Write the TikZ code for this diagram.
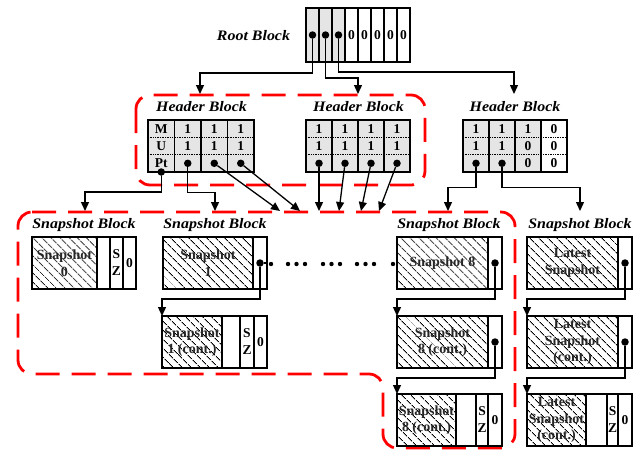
\documentclass[tikz,border=0pt]{standalone}
\usepackage{fontspec}
\setmainfont{Liberation Serif}
\newfontfamily\blockfont[FakeStretch=1.1]{Liberation Serif}
\usetikzlibrary{positioning,arrows.meta,patterns.meta}

\begin{document}
\begin{tikzpicture}[x=1pt, y=-1pt,
  cell/.style={draw, line width=1.3pt, inner sep=0pt, outer sep=0pt, align=center,
    minimum height=52pt, font=\bfseries\fontsize{13.5}{17}\selectfont},
  rcell/.style={cell, minimum width=13pt, minimum height=54pt},
  hcell/.style={cell, fill=gray!20, minimum width=26.5pt},
  snap/.style={cell, pattern={Lines[angle=-45, distance=6.5pt, line width=1pt]},
    text=black!85, font=\bfseries\fontsize{14}{16.5}\selectfont},
  lbl/.style={inner sep=0pt, font=\blockfont\bfseries\itshape\fontsize{14.5}{16}\selectfont},
  ptr/.style={circle, fill, inner sep=0pt, minimum size=7.5pt},
  arr/.style={line width=1.3pt, -{Triangle[width=8pt, length=9pt]}},
  link/.style={line width=1.3pt},
  sep/.style={densely dotted, line width=0.7pt},
  zone/.style={red, line width=2.8pt, dash pattern=on 24pt off 12pt, rounded corners=14pt}]
  \useasboundingbox (0,0) rectangle (637,451);

  % red groups
  \draw[zone] (136,95) rectangle (425,185);
  \draw[zone] (18,212) -- (515,212) -- (515,448) -- (383,448) -- (383,374) -- (18,374) -- cycle;

  % root block
  \node[lbl] (root) at (253.5,36) {Root Block};
  \node[rcell, fill=gray!20] (r1) at (312.5,35) {};
  \node[rcell, fill=gray!20, right=0pt of r1] (r2) {};
  \node[rcell, fill=gray!20, right=0pt of r2] (r3) {};
  \node[rcell, right=0pt of r3] (r4) {0};
  \node[rcell, right=0pt of r4] (r5) {0};
  \node[rcell, right=0pt of r5] (r6) {0};
  \node[rcell, right=0pt of r6] (r7) {0};
  \node[rcell, right=0pt of r7] (r8) {0};
  \node[ptr] (rd1) at (r1) {};
  \node[ptr] (rd2) at (r2) {};
  \node[ptr] (rd3) at (r3) {};

  % header blocks
  \coordinate (hinA) at (200,94);
  \coordinate (hinB) at (358,94);
  \coordinate (hinC) at (514,94);
  \node[lbl] (hlA) at (201.5,106.5) {Header Block};
  \node[lbl] (hlB) at (358.5,106.5) {Header Block};
  \node[lbl] (hlC) at (515,106.5) {Header Block};

  \node[hcell] (hA1) at (161.25,146) {M\\U\\Pt};
  \node[hcell, right=0pt of hA1] (hA2) {1\\1\\\phantom{1}};
  \node[hcell, right=0pt of hA2] (hA3) {1\\1\\\phantom{1}};
  \node[hcell, right=0pt of hA3] (hA4) {1\\1\\\phantom{1}};
  \draw[sep] ([yshift=8.7pt]hA1.west) -- ([yshift=8.7pt]hA4.east);
  \draw[sep] ([yshift=-8.7pt]hA1.west) -- ([yshift=-8.7pt]hA4.east);
  \node[ptr] (pA1) at (hA1.south) {};
  \node[ptr] (pA2) at ([yshift=-17.3pt]hA2.center) {};
  \node[ptr] (pA3) at ([yshift=-17.3pt]hA3.center) {};
  \node[ptr] (pA4) at ([yshift=-17.3pt]hA4.center) {};

  \node[hcell, minimum width=26pt] (hB1) at (319,146) {1\\1\\\phantom{1}};
  \node[hcell, minimum width=26pt, right=0pt of hB1] (hB2) {1\\1\\\phantom{1}};
  \node[hcell, minimum width=26pt, right=0pt of hB2] (hB3) {1\\1\\\phantom{1}};
  \node[hcell, minimum width=26pt, right=0pt of hB3] (hB4) {1\\1\\\phantom{1}};
  \draw[sep] ([yshift=8.7pt]hB1.west) -- ([yshift=8.7pt]hB4.east);
  \draw[sep] ([yshift=-8.7pt]hB1.west) -- ([yshift=-8.7pt]hB4.east);
  \node[ptr] (pB1) at ([yshift=-17.3pt]hB1.center) {};
  \node[ptr] (pB2) at ([yshift=-17.3pt]hB2.center) {};
  \node[ptr] (pB3) at ([yshift=-17.3pt]hB3.center) {};
  \node[ptr] (pB4) at ([yshift=-17.3pt]hB4.center) {};

  \node[hcell, minimum width=26pt] (hC1) at (476,146) {1\\1\\\phantom{1}};
  \node[hcell, minimum width=26pt, right=0pt of hC1] (hC2) {1\\1\\\phantom{1}};
  \node[hcell, minimum width=26pt, right=0pt of hC2] (hC3) {1\\0\\0};
  \node[cell, minimum width=26pt, right=0pt of hC3] (hC4) {0\\0\\0};
  \draw[sep] ([yshift=8.7pt]hC1.west) -- ([yshift=8.7pt]hC4.east);
  \draw[sep] ([yshift=-8.7pt]hC1.west) -- ([yshift=-8.7pt]hC4.east);
  \node[ptr] (pC1) at ([yshift=-17.3pt]hC1.center) {};
  \node[ptr] (pC2) at ([yshift=-17.3pt]hC2.center) {};

  % snapshot blocks, first row
  \coordinate (t0) at (85,211);
  \coordinate (t1) at (215,211);
  \coordinate (t8) at (448,211);
  \coordinate (tL) at (580,211);
  \coordinate (m1) at (280,211);
  \coordinate (m2) at (300,211);
  \coordinate (m3) at (319,211);
  \coordinate (m4) at (339,211);
  \coordinate (m5) at (361,211);
  \coordinate (m6) at (379,211);
  \node[lbl] (sb0) at (84,225) {Snapshot Block};
  \node[lbl] (sb1) at (215,225) {Snapshot Block};
  \node[lbl] (sb8) at (449,225) {Snapshot Block};
  \node[lbl] (sbL) at (580,225) {Snapshot Block};

  \node[snap, minimum width=65pt] (s0) at (64.5,263) {Snapshot\\0};
  \node[cell, minimum width=13pt, right=0pt of s0] (e0) {};
  \node[cell, minimum width=13pt, right=0pt of e0] (z0) {S\\Z};
  \node[cell, minimum width=13pt, right=0pt of z0] (n0) {0};

  \node[snap, minimum width=90pt] (s1) at (208,263) {Snapshot\\1};
  \node[cell, minimum width=14pt, right=0pt of s1] (s1p) {};
  \node[ptr] (p1) at (s1p) {};

  \node[snap, minimum width=91pt] (s8) at (442.5,263) {Snapshot 8};
  \node[cell, minimum width=14pt, right=0pt of s8] (s8p) {};
  \node[ptr] (p8) at (s8p) {};

  \node[snap, minimum width=91pt] (sL) at (572.5,263) {Latest\\Snapshot};
  \node[cell, minimum width=14pt, right=0pt of sL] (sLp) {};
  \node[ptr] (pL) at (sLp) {};

  % second row
  \node[snap, minimum width=60pt] (s1c) at (192,342) {Snapshot\\1 (cont.)};
  \node[cell, minimum width=18pt, right=0pt of s1c] (e1c) {};
  \node[cell, minimum width=14pt, right=0pt of e1c] (z1c) {S\\Z};
  \node[cell, minimum width=13pt, right=0pt of z1c] (n1c) {0};

  \node[snap, minimum width=91pt] (s8c) at (442.5,342) {Snapshot\\8 (cont.)};
  \node[cell, minimum width=14pt, right=0pt of s8c] (s8cp) {};
  \node[ptr] (p8c) at (s8cp) {};

  \node[snap, minimum width=91pt] (sLc) at (572.5,342) {Latest\\Snapshot\\(cont.)};
  \node[cell, minimum width=14pt, right=0pt of sLc] (sLcp) {};
  \node[ptr] (pLc) at (sLcp) {};

  % third row
  \node[snap, minimum width=59pt] (s8d) at (426.5,420) {Snapshot\\8 (cont.)};
  \node[cell, minimum width=20pt, right=0pt of s8d] (e8d) {};
  \node[cell, minimum width=12pt, right=0pt of e8d] (z8d) {S\\Z};
  \node[cell, minimum width=14pt, right=0pt of z8d] (n8d) {0};

  \node[snap, minimum width=59pt] (sLd) at (556.5,420) {Latest\\Snapshot\\(cont.)};
  \node[cell, minimum width=21pt, right=0pt of sLd] (eLd) {};
  \node[cell, minimum width=11pt, right=0pt of eLd] (zLd) {S\\Z};
  \node[cell, minimum width=14pt, right=0pt of zLd] (nLd) {0};

  % pointers
  \draw[arr] (rd1) -- ++(0,38) -| (hinA);
  \draw[arr] (rd2) -- ++(0,43) -| (hinB);
  \draw[arr] (rd3) -- ++(0,37) -| (hinC);

  \draw[arr] (pA1) -- ++(0,20) -| (t0);
  \draw[arr] (pA2) -- ++(0,29) -| (t1);
  \draw[arr] (pA3) -- (m1);
  \draw[arr] (pA4) -- (m2);
  \draw[arr] (pB1) -- (m3);
  \draw[arr] (pB2) -- (m4);
  \draw[arr] (pB3) -- (m5);
  \draw[arr] (pB4) -- (m6);
  \draw[arr] (pC1) -- ++(0,24) -| (t8);
  \draw[arr] (pC2) -- ++(0,24) -| (tL);

  \draw[link] (p1) -- (s1p.east);
  \foreach \x in {271,288,296.5,305,323,331.5,340,357,365.5,374,393}
    \fill (\x,264) circle (2.2pt);

  \draw[arr] (p1) -- ++(0,36) -| (s1c.north west);
  \draw[arr] (p8) -- ++(0,36) -| (s8c.north west);
  \draw[arr] (pL) -- ++(0,36) -| (sLc.north west);
  \draw[arr] (p8c) -- ++(0,36) -| (s8d.north west);
  \draw[arr] (pLc) -- ++(0,36) -| (sLd.north west);
\end{tikzpicture}
\end{document}
